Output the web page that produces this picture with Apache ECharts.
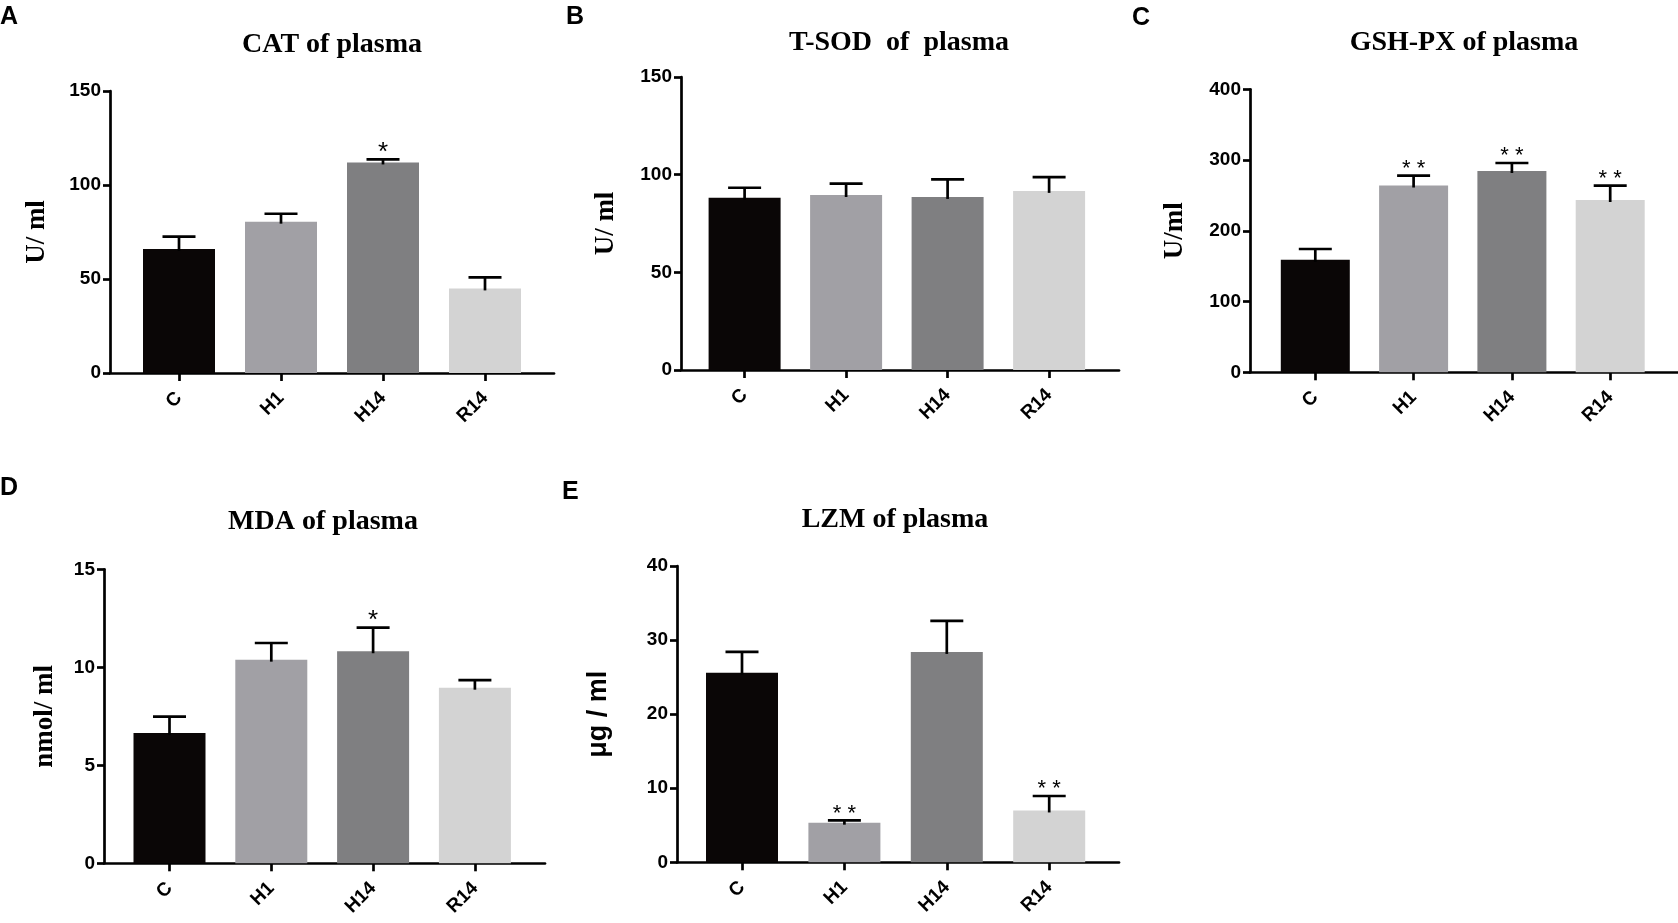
<!DOCTYPE html>
<html>
<head>
<meta charset="utf-8">
<script src="https://cdn.jsdelivr.net/npm/echarts@6/dist/echarts.min.js"></script>
<style>
html, body { margin: 0; padding: 0; background: #fff; }
#chart { width: 1678px; height: 923px; }
</style>
</head>
<body>
<div id="chart"></div>
<script>
var categories = ['C', 'H1', 'H14', 'R14'];
var barColors = ['#0a0606', '#a1a0a5', '#7f7f81', '#d3d3d3'];

// means and upper error (SD)
var catMean = [66, 80.5, 112, 45],        catSd = [6.5, 4.2, 1.6, 5.9],   catSig = ['', '', '*', ''];
var sodMean = [88.2, 89.6, 88.6, 91.7],   sodSd = [5.1, 5.8, 9.0, 7.0],   sodSig = ['', '', '', ''];
var gshMean = [159, 264, 284.5, 243.5],   gshSd = [15.3, 14, 11.3, 20.3], gshSig = ['', '* *', '* *', '* *'];
var mdaMean = [6.65, 10.39, 10.82, 8.96], mdaSd = [0.83, 0.85, 1.2, 0.39], mdaSig = ['', '', '*', ''];
var lzmMean = [25.6, 5.35, 28.4, 7.0],    lzmSd = [2.8, 0.3, 4.2, 1.95],  lzmSig = ['', '* *', '', '* *'];

var panels = [
    {letter: 'A', title: 'CAT of plasma',     unit: 'U/ ml',    mean: catMean, sd: catSd, sig: catSig, max: 150, step: 50},
    {letter: 'B', title: 'T-SOD  of  plasma', unit: 'U/ ml',    mean: sodMean, sd: sodSd, sig: sodSig, max: 150, step: 50},
    {letter: 'C', title: 'GSH-PX of plasma',  unit: 'U/ml',     mean: gshMean, sd: gshSd, sig: gshSig, max: 400, step: 100},
    {letter: 'D', title: 'MDA of plasma',     unit: 'nmol/ ml', mean: mdaMean, sd: mdaSd, sig: mdaSig, max: 15,  step: 5},
    {letter: 'E', title: 'LZM of plasma',     unit: 'μg / ml',  mean: lzmMean, sd: lzmSd, sig: lzmSig, max: 40,  step: 10}
];

// pixel layout of each panel (axis positions, bar spacing)
var layout = [
    {yx: 110,  xend: 554,  top: 91,    bot: 373,   c0: 179,    step: 102,   bw: 72, gap: 59, tx: 332,  ty: 31,  lx: 0,    ly: 5,   sans: false},
    {yx: 681,  xend: 1119, top: 77,    bot: 370,   c0: 744.6,  step: 101.5, bw: 72, gap: 61, tx: 899,  ty: 29,  lx: 566,  ly: 5,   sans: false},
    {yx: 1250, xend: 1678, top: 89.3,  bot: 372.3, c0: 1315.3, step: 98.3,  bw: 69, gap: 61, tx: 1464, ty: 29,  lx: 1132, ly: 6,   sans: false},
    {yx: 104,  xend: 545,  top: 569.3, bot: 863.3, c0: 169.5,  step: 101.8, bw: 72, gap: 45, tx: 323,  ty: 508, lx: 0,    ly: 476, sans: false},
    {yx: 677,  xend: 1119, top: 566,   bot: 862.3, c0: 742,    step: 102.4, bw: 72, gap: 65, tx: 895,  ty: 506, lx: 562,  ly: 480, sans: true}
];

var SANS = 'Liberation Sans, Arial, sans-serif',
    SERIF = 'Liberation Serif, Times New Roman, serif';

var grids = [], xAxes = [], yAxes = [], series = [], titles = [];

panels.forEach(function (p, k) {
    var L = layout[k],
        h = L.bot - L.top;

    titles.push({
        text: p.letter, left: L.lx, top: L.ly, padding: 0,
        textStyle: {fontFamily: SANS, fontWeight: 'bold', fontSize: 25, color: '#000'}
    });
    titles.push({
        text: p.title, left: L.tx, top: L.ty, padding: 0, textAlign: 'center',
        textStyle: {fontFamily: SERIF, fontWeight: 'bold', fontSize: 28, color: '#000'}
    });

    // frame grid: full axis lines
    grids.push({left: L.yx, top: L.top, width: L.xend - L.yx, height: h});
    // bars grid: category centres
    grids.push({left: L.c0 - L.step / 2, top: L.top, width: L.step * 4, height: h});

    xAxes.push({
        gridIndex: 2 * k, type: 'category', data: categories,
        axisLine: {show: true, lineStyle: {color: '#000', width: 2.7}},
        axisTick: {show: false}, axisLabel: {show: false}
    });
    xAxes.push({
        gridIndex: 2 * k + 1, type: 'category', data: categories,
        axisLine: {show: false},
        axisTick: {show: true, alignWithLabel: true, length: 8, lineStyle: {color: '#000', width: 2.7}},
        axisLabel: {rotate: 45, margin: 22, fontFamily: SANS, fontWeight: 'bold', fontSize: 19, color: '#000'}
    });

    yAxes.push({
        gridIndex: 2 * k, type: 'value', min: 0, max: p.max, interval: p.step,
        name: p.unit, nameLocation: 'middle', nameGap: L.gap,
        nameTextStyle: {fontFamily: L.sans ? SANS : SERIF, fontWeight: 'bold', fontSize: 27, color: '#000'},
        axisLine: {show: true, lineStyle: {color: '#000', width: 2.7}},
        axisTick: {show: true, length: 7, lineStyle: {color: '#000', width: 2.7}},
        axisLabel: {margin: 9, fontFamily: SANS, fontWeight: 'bold', fontSize: 19, color: '#000'},
        splitLine: {show: false}
    });
    yAxes.push({
        gridIndex: 2 * k + 1, type: 'value', min: 0, max: p.max, interval: p.step, show: false,
        splitLine: {show: false}
    });

    series.push({
        type: 'bar', xAxisIndex: 2 * k + 1, yAxisIndex: 2 * k + 1,
        barWidth: L.bw, silent: true,
        data: p.mean.map(function (v, i) {
            return {value: v, itemStyle: {color: barColors[i]}};
        })
    });

    series.push({
        type: 'custom', xAxisIndex: 2 * k + 1, yAxisIndex: 2 * k + 1, z: 5, silent: true,
        data: p.mean.map(function (v, i) { return [i, v, p.sd[i]]; }),
        renderItem: function (params, api) {
            var i = api.value(0), m = api.value(1), s = api.value(2),
                base = api.coord([i, m]),
                top = api.coord([i, m + s]),
                st = {stroke: '#000', lineWidth: 2.7},
                sig = p.sig[params.dataIndex],
                kids = [
                    {type: 'line', shape: {x1: base[0], y1: base[1] + 2, x2: base[0], y2: top[1]}, style: st},
                    {type: 'line', shape: {x1: base[0] - 16.5, y1: top[1], x2: base[0] + 16.5, y2: top[1]}, style: st}
                ];
            if (sig) {
                kids.push({
                    type: 'text',
                    style: {
                        text: sig, x: base[0], y: top[1] - 7,
                        align: 'center', verticalAlign: 'middle',
                        fontFamily: SANS, fontSize: sig.length > 1 ? 22 : 26, fill: '#000'
                    }
                });
            }
            return {type: 'group', children: kids};
        }
    });
});

var myChart = echarts.init(document.getElementById('chart'));
myChart.setOption({
    animation: false,
    backgroundColor: '#fff',
    title: titles,
    grid: grids,
    xAxis: xAxes,
    yAxis: yAxes,
    series: series
});
</script>
</body>
</html>
